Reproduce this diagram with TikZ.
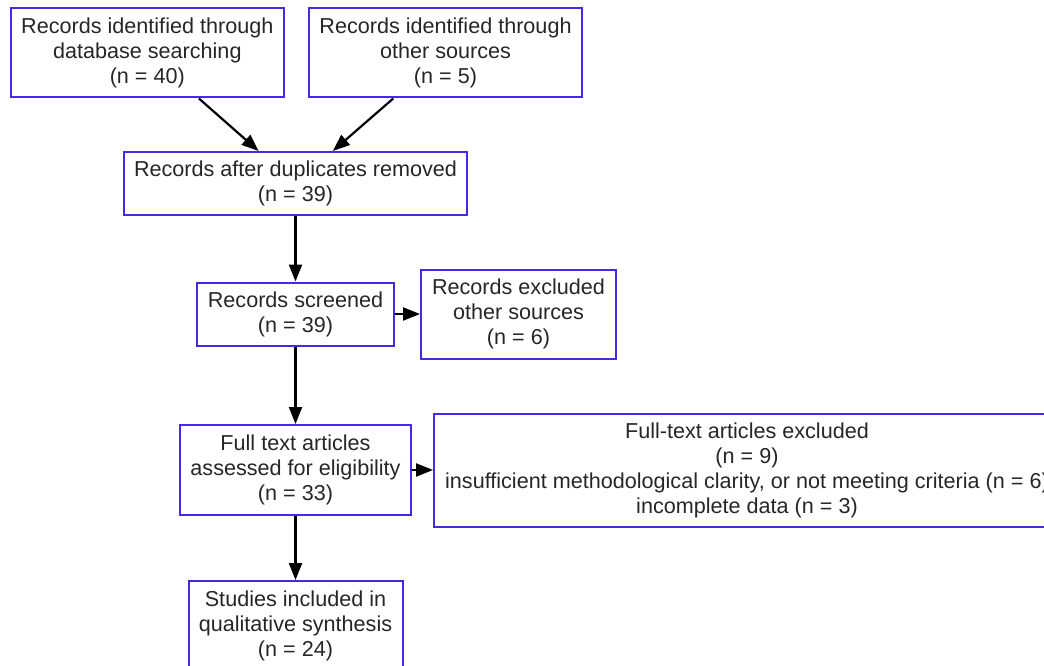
\documentclass[tikz,border=0pt]{standalone}
\usepackage{fontspec}
\setmainfont{Liberation Sans}
\usetikzlibrary{arrows.meta}
\definecolor{recblue}{RGB}{72,40,232}

\begin{document}
\begin{tikzpicture}[x=1pt,y=-1pt,
rec/.style={draw=recblue,line width=2pt,inner sep=0pt,align=center,font=\fontsize{21.6}{25}\selectfont,text=black!85},
flow/.style={line width=2.2pt,-{Triangle[length=17pt,width=13pt]}}]
\useasboundingbox (0,0) rectangle (1044,666);
\clip (0,0) rectangle (1044,666);
\node[rec,minimum width=273pt,minimum height=89pt] (db) at (147.3,53) {Records identified through\\database searching\\(n = 40)};
\node[rec,minimum width=273pt,minimum height=89pt] (oth) at (445.5,53) {Records identified through\\other sources\\(n = 5)};
\node[rec,minimum width=343pt,minimum height=63pt] (dup) at (295.5,183.5) {Records after duplicates removed\\(n = 39)};
\node[rec,minimum width=197pt,minimum height=63pt] (scr) at (295.5,314) {Records screened\\(n = 39)};
\node[rec,minimum width=195pt,minimum height=89pt] (exc) at (518.5,314) {Records excluded\\other sources\\(n = 6)};
\node[rec,minimum width=231pt,minimum height=90pt] (full) at (295.5,470) {Full text articles\\assessed for eligibility\\(n = 33)};
\node[rec,minimum width=626pt,minimum height=113pt] (excft) at (747,470) {Full-text articles excluded\\(n = 9)\\insufficient methodological clarity, or not meeting criteria (n = 6)\\incomplete data (n = 3)};
\node[rec,minimum width=214pt,minimum height=89pt] (incl) at (295.5,625.5) {Studies included in\\qualitative synthesis\\(n = 24)};
\draw[flow] (db) -- (dup);
\draw[flow] (oth) -- (dup);
\draw[flow] (dup) -- (scr);
\draw[flow] (scr) -- (exc);
\draw[flow] (scr) -- (full);
\draw[flow] (full) -- (excft);
\draw[flow] (full) -- (incl);
\end{tikzpicture}
\end{document}
